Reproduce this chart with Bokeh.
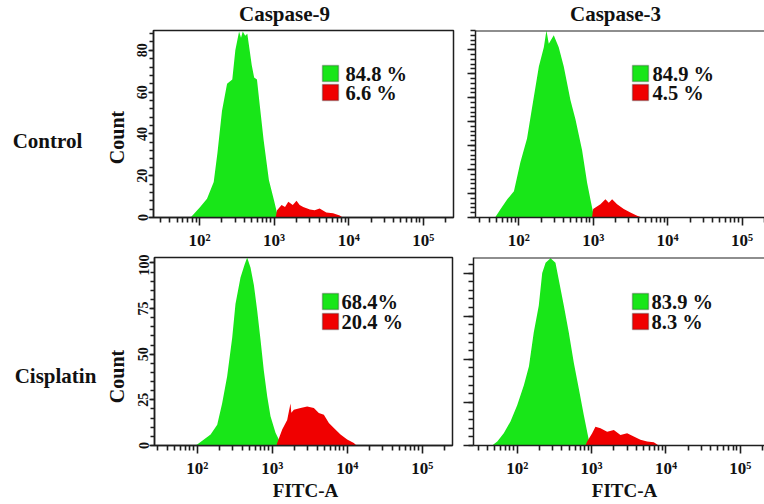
import math
from bokeh.plotting import figure
from bokeh.models import Range1d, FixedTicker, Label, BoxAnnotation, Span, CustomJSTickFormatter
from bokeh.layouts import column, row
from bokeh.embed import file_html
from bokeh.resources import INLINE

FONT = "Liberation Serif"
GREEN = "#18e618"
RED = "#f00000"
INK = "#1e1e1e"

col_titles = ["Caspase-9", "Caspase-3"]
row_titles = ["Control", "Cisplatin"]
x_title = "FITC-A"
y_title = "Count"

x_tick_values = [1e2, 1e3, 1e4, 1e5]
x_tick_labels = ["10²", "10³", "10⁴", "10⁵"]

# ---- Caspase-9 / Control ----
c9_ctrl_green_x = [76, 102, 126, 155, 174, 200, 234, 275, 302, 339, 360, 380, 410, 437, 470, 501, 540, 589, 650, 724, 851, 1000, 1096, 1175]
c9_ctrl_green_y = [0, 5, 9, 17, 31, 51, 64, 66, 80, 89, 86, 89, 87, 88, 80, 73, 67, 66, 52, 37, 18, 8, 2, 0]
c9_ctrl_red_x = [1047, 1096, 1259, 1400, 1549, 1778, 1995, 2200, 2455, 3020, 3500, 4074, 5012, 6166, 7586, 8318]
c9_ctrl_red_y = [0, 3.5, 6, 5, 7.5, 6, 8, 6, 5, 3.8, 3.5, 4.3, 2.4, 2, 1, 0]
c9_ctrl_pct = ["84.8 %", "6.6 %"]

# ---- Caspase-3 / Control ----
c3_ctrl_green_x = [48, 57, 70, 86, 105, 129, 151, 186, 217, 235, 253, 295, 344, 402, 494, 577, 709, 828, 937, 1018, 1030]
c3_ctrl_green_y = [0, 3.5, 7.6, 11, 23, 33, 46, 63, 71, 78, 72.5, 76, 71, 63, 49, 41, 28, 14.5, 6.2, 0.7, 0]
c3_ctrl_red_x = [966, 998, 1250, 1459, 1618, 1795, 2094, 2575, 3162, 3889, 4540]
c3_ctrl_red_y = [0, 3.5, 5.5, 7.6, 6.2, 7.6, 5.5, 3.5, 2.1, 0.7, 0]
c3_ctrl_pct = ["84.9 %", "4.5 %"]

# ---- Caspase-9 / Cisplatin ----
c9_cis_green_x = [95, 100, 123, 151, 185, 215, 251, 293, 324, 378, 428, 464, 514, 570, 631, 699, 774, 858, 950, 1108, 1291, 1360]
c9_cis_green_y = [0, 0.5, 3.3, 6, 11.4, 23, 38, 59, 77.5, 92, 99, 103, 97.5, 88, 74, 58, 41, 27, 16, 7, 1.4, 0]
c9_cis_red_x = [1143, 1166, 1360, 1585, 1754, 1800, 1944, 2387, 2930, 3594, 4188, 4886, 5700, 6641, 8147, 10000, 12274, 13300]
c9_cis_red_y = [0, 1.4, 8.7, 14, 23, 18, 19.6, 20.5, 21.4, 20.5, 17.8, 16.8, 12.3, 9.6, 6, 3.3, 1.4, 0]
c9_cis_pct = ["68.4%", "20.4 %"]

# ---- Caspase-3 / Cisplatin ----
c3_cis_green_x = [46, 54, 66, 81, 100, 123, 144, 167, 195, 217, 241, 281, 327, 363, 424, 494, 577, 673, 787, 872, 946, 960]
c3_cis_green_y = [0, 2.3, 7.1, 13.8, 23.4, 35, 46, 65.5, 81, 100, 106, 108.6, 106, 96, 81, 65.5, 48, 33, 17.6, 8, 0.4, 0]
c3_cis_red_x = [828, 872, 1018, 1127, 1318, 1618, 1991, 2443, 3006, 3690, 4540, 5580, 6855, 8000]
c3_cis_red_y = [0, 2.3, 7.1, 10.9, 10, 8, 9, 6.1, 7.1, 5.2, 3.3, 2.3, 1.9, 0]
c3_cis_pct = ["83.9 %", "8.3 %"]

minor_x = [m * 10 ** k for k in range(1, 6) for m in range(2, 10)]


def text_panel(width, height):
    t = figure(width=width, height=height, x_range=Range1d(0, 1), y_range=Range1d(0, 1),
               output_backend="svg", toolbar_location=None,
               x_axis_location=None, y_axis_location=None,
               min_border_left=0, min_border_right=0, min_border_top=0, min_border_bottom=0)
    t.outline_line_color = None
    t.xgrid.visible = False
    t.ygrid.visible = False
    return t


def add_text(p, x, y, txt, angle=0.0, size="21px", align="center"):
    p.add_layout(Label(x=x, y=y, x_units="screen", y_units="screen", text=txt, angle=angle,
                       text_font=FONT, text_font_style="bold", text_font_size=size,
                       text_baseline="middle", text_align=align, text_color="#111111"))


def make_panel(width, height, borders, xlog, ymax, ymajor, yminor_step,
               gx, gy, rx, ry, pct, legend, show_ylabels, right_open, ytick_len=(5, 4)):
    bl, br, bt, bb = borders
    p = figure(width=width, height=height, x_axis_type="log",
               x_range=Range1d(10 ** xlog[0], 10 ** xlog[1]),
               y_range=Range1d(0, ymax),
               output_backend="svg", toolbar_location=None,
               min_border_left=bl, min_border_right=br,
               min_border_top=bt, min_border_bottom=bb)
    p.xgrid.visible = False
    p.ygrid.visible = False
    if right_open:
        p.outline_line_color = None
        p.add_layout(Span(location=ymax, dimension="width", line_color=INK, line_width=2))
    else:
        p.outline_line_color = INK
        p.outline_line_width = 1.5

    p.varea(x=gx, y1=0, y2=gy, fill_color=GREEN)
    p.varea(x=rx, y1=0, y2=ry, fill_color=RED)

    xa = p.below[0]
    xa.ticker = FixedTicker(ticks=x_tick_values,
                            minor_ticks=[v for v in minor_x if 10 ** xlog[0] <= v <= 10 ** xlog[1]])
    xa.major_label_overrides = dict(zip(x_tick_values, x_tick_labels))
    xa.axis_line_color = INK
    xa.axis_line_width = 1.5
    xa.major_tick_line_color = INK
    xa.minor_tick_line_color = INK
    xa.major_tick_line_width = 1.6
    xa.minor_tick_line_width = 1.6
    xa.major_tick_in = 0
    xa.major_tick_out = 8
    xa.minor_tick_in = 0
    xa.minor_tick_out = 5
    xa.major_label_standoff = 5
    xa.major_label_text_font = FONT
    xa.major_label_text_font_style = "bold"
    xa.major_label_text_font_size = "17px"
    xa.major_label_text_color = "#111111"

    ya = p.left[0]
    ya.ticker = FixedTicker(ticks=ymajor,
                            minor_ticks=[i * yminor_step for i in range(int(ymax / yminor_step) + 1)])
    ya.axis_line_color = INK
    ya.axis_line_width = 1.5
    ya.major_tick_line_color = INK
    ya.minor_tick_line_color = INK
    ya.major_tick_line_width = 1.6
    ya.minor_tick_line_width = 1.6
    ya.major_tick_in = 0
    ya.minor_tick_in = 0
    ya.major_tick_out = ytick_len[0]
    ya.minor_tick_out = ytick_len[1]
    if show_ylabels:
        ya.major_label_orientation = "vertical"
        ya.major_label_standoff = 1
        ya.major_label_text_font = FONT
        ya.major_label_text_font_style = "bold"
        ya.major_label_text_font_size = "14px"
        ya.major_label_text_color = "#111111"
    else:
        ya.major_label_standoff = 0
        ya.formatter = CustomJSTickFormatter(code="return ''")

    bx, by1, by2, tx = legend
    for (yy, col, txt) in [(by1, GREEN, pct[0]), (by2, RED, pct[1])]:
        p.add_layout(BoxAnnotation(left=bx, right=bx + 16, bottom=yy - 8, top=yy + 8,
                                   left_units="screen", right_units="screen",
                                   top_units="screen", bottom_units="screen",
                                   fill_color=col, fill_alpha=1.0,
                                   line_color=INK, line_width=1.5, level="overlay"))
        add_text(p, tx, yy, txt, align="left", size="20.5px")
    return p


# header with column titles (y 0..28)
header = text_panel(764, 28)
add_text(header, 284, 15, col_titles[0])
add_text(header, 615, 15, col_titles[1])

# top row: frames at y 30..217 (text panel frame is aligned to them)
L1 = text_panel(130, 226)
add_text(L1, 47, 77, row_titles[0])
add_text(L1, 116, 80, y_title, angle=math.pi / 2, size="20px")
p1 = make_panel(332, 226, (23, 9, 2, 37), (1.383, 5.405), 89.5, [0, 20, 40, 60, 80], 4,
                c9_ctrl_green_x, c9_ctrl_green_y, c9_ctrl_red_x, c9_ctrl_red_y,
                c9_ctrl_pct, (169, 144, 125, 192), True, False)
p2 = make_panel(302, 226, (13, 0, 2, 37), (1.418, 5.302), 78, [0, 10, 20, 30, 40, 50, 60, 70], 2,
                c3_ctrl_green_x, c3_ctrl_green_y, c3_ctrl_red_x, c3_ctrl_red_y,
                c3_ctrl_pct, (157, 144, 125, 177), False, True, ytick_len=(8, 5))

# bottom row: frames at y 257..447
L2 = text_panel(130, 226)
add_text(L2, 55, 70, row_titles[1])
add_text(L2, 116, 69, y_title, angle=math.pi / 2, size="20px")
p3 = make_panel(332, 226, (24, 10, 3, 33), (1.431, 5.404), 103, [0, 25, 50, 75, 100], 5,
                c9_cis_green_x, c9_cis_green_y, c9_cis_red_x, c9_cis_red_y,
                c9_cis_pct, (168, 144, 124, 187), True, False)
p4 = make_panel(302, 226, (11, 0, 3, 33), (1.413, 5.324), 109, [0, 25, 50, 75, 100], 5,
                c3_cis_green_x, c3_cis_green_y, c3_cis_red_x, c3_cis_red_y,
                c3_cis_pct, (159, 144, 124, 178), False, True, ytick_len=(10, 5))

# footer with x axis titles (y 480..504)
footer = text_panel(764, 24)
add_text(footer, 305, 14, x_title, size="19px")
add_text(footer, 624, 14, x_title, size="19px")

layout = column(header,
                row(L1, p1, p2, spacing=0),
                row(L2, p3, p4, spacing=0),
                footer, spacing=0)
open("out.html", "w").write(file_html(layout, INLINE))
